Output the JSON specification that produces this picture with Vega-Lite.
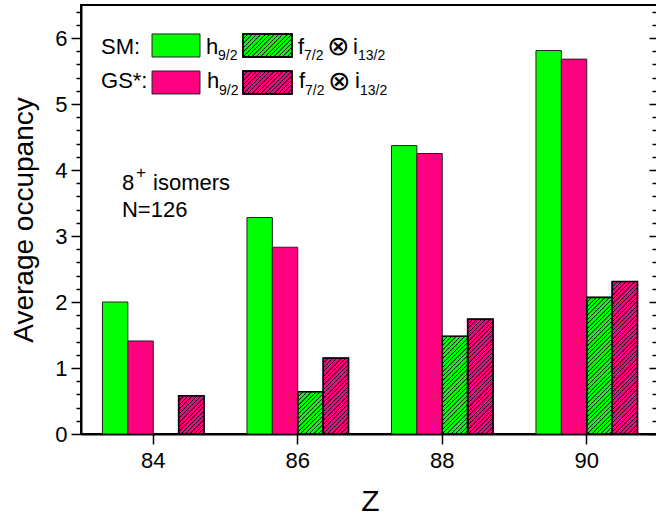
{
  "$schema": "https://vega.github.io/schema/vega-lite/v6.json",
  "autosize": "none",
  "padding": {"left": 81, "top": 5, "right": -3, "bottom": 81},
  "width": 578,
  "height": 429,
  "background": "white",
  "config": {
    "font": "Liberation Sans",
    "view": {"stroke": "black", "strokeWidth": 2},
    "axis": {"domainColor": "black", "tickColor": "black", "labelColor": "black", "titleColor": "black", "grid": false}
  },
  "params": [
    {"name": "hatch", "value": [
      {"offset":0,"color":"#0000"},{"offset":0.002,"color":"#000"},{"offset":0.005,"color":"#000"},{"offset":0.007,"color":"#0000"},
      {"offset":0.02,"color":"#0000"},{"offset":0.022,"color":"#000"},{"offset":0.025,"color":"#000"},{"offset":0.027,"color":"#0000"},
      {"offset":0.04,"color":"#0000"},{"offset":0.042,"color":"#000"},{"offset":0.045,"color":"#000"},{"offset":0.047,"color":"#0000"},
      {"offset":0.06,"color":"#0000"},{"offset":0.062,"color":"#000"},{"offset":0.065,"color":"#000"},{"offset":0.067,"color":"#0000"},
      {"offset":0.08,"color":"#0000"},{"offset":0.082,"color":"#000"},{"offset":0.085,"color":"#000"},{"offset":0.087,"color":"#0000"},
      {"offset":0.10,"color":"#0000"},{"offset":0.102,"color":"#000"},{"offset":0.105,"color":"#000"},{"offset":0.107,"color":"#0000"},
      {"offset":0.12,"color":"#0000"},{"offset":0.122,"color":"#000"},{"offset":0.125,"color":"#000"},{"offset":0.127,"color":"#0000"},
      {"offset":0.14,"color":"#0000"},{"offset":0.142,"color":"#000"},{"offset":0.145,"color":"#000"},{"offset":0.147,"color":"#0000"},
      {"offset":0.16,"color":"#0000"},{"offset":0.162,"color":"#000"},{"offset":0.165,"color":"#000"},{"offset":0.167,"color":"#0000"},
      {"offset":0.18,"color":"#0000"},{"offset":0.182,"color":"#000"},{"offset":0.185,"color":"#000"},{"offset":0.187,"color":"#0000"},
      {"offset":0.20,"color":"#0000"},{"offset":0.202,"color":"#000"},{"offset":0.205,"color":"#000"},{"offset":0.207,"color":"#0000"},
      {"offset":0.22,"color":"#0000"},{"offset":0.222,"color":"#000"},{"offset":0.225,"color":"#000"},{"offset":0.227,"color":"#0000"},
      {"offset":0.24,"color":"#0000"},{"offset":0.242,"color":"#000"},{"offset":0.245,"color":"#000"},{"offset":0.247,"color":"#0000"},
      {"offset":0.26,"color":"#0000"},{"offset":0.262,"color":"#000"},{"offset":0.265,"color":"#000"},{"offset":0.267,"color":"#0000"},
      {"offset":0.28,"color":"#0000"},{"offset":0.282,"color":"#000"},{"offset":0.285,"color":"#000"},{"offset":0.287,"color":"#0000"},
      {"offset":0.30,"color":"#0000"},{"offset":0.302,"color":"#000"},{"offset":0.305,"color":"#000"},{"offset":0.307,"color":"#0000"},
      {"offset":0.32,"color":"#0000"},{"offset":0.322,"color":"#000"},{"offset":0.325,"color":"#000"},{"offset":0.327,"color":"#0000"},
      {"offset":0.34,"color":"#0000"},{"offset":0.342,"color":"#000"},{"offset":0.345,"color":"#000"},{"offset":0.347,"color":"#0000"},
      {"offset":0.36,"color":"#0000"},{"offset":0.362,"color":"#000"},{"offset":0.365,"color":"#000"},{"offset":0.367,"color":"#0000"},
      {"offset":0.38,"color":"#0000"},{"offset":0.382,"color":"#000"},{"offset":0.385,"color":"#000"},{"offset":0.387,"color":"#0000"},
      {"offset":0.40,"color":"#0000"},{"offset":0.402,"color":"#000"},{"offset":0.405,"color":"#000"},{"offset":0.407,"color":"#0000"},
      {"offset":0.42,"color":"#0000"},{"offset":0.422,"color":"#000"},{"offset":0.425,"color":"#000"},{"offset":0.427,"color":"#0000"},
      {"offset":0.44,"color":"#0000"},{"offset":0.442,"color":"#000"},{"offset":0.445,"color":"#000"},{"offset":0.447,"color":"#0000"},
      {"offset":0.46,"color":"#0000"},{"offset":0.462,"color":"#000"},{"offset":0.465,"color":"#000"},{"offset":0.467,"color":"#0000"},
      {"offset":0.48,"color":"#0000"},{"offset":0.482,"color":"#000"},{"offset":0.485,"color":"#000"},{"offset":0.487,"color":"#0000"},
      {"offset":0.50,"color":"#0000"},{"offset":0.502,"color":"#000"},{"offset":0.505,"color":"#000"},{"offset":0.507,"color":"#0000"},
      {"offset":0.52,"color":"#0000"},{"offset":0.522,"color":"#000"},{"offset":0.525,"color":"#000"},{"offset":0.527,"color":"#0000"},
      {"offset":0.54,"color":"#0000"},{"offset":0.542,"color":"#000"},{"offset":0.545,"color":"#000"},{"offset":0.547,"color":"#0000"},
      {"offset":0.56,"color":"#0000"},{"offset":0.562,"color":"#000"},{"offset":0.565,"color":"#000"},{"offset":0.567,"color":"#0000"},
      {"offset":0.58,"color":"#0000"},{"offset":0.582,"color":"#000"},{"offset":0.585,"color":"#000"},{"offset":0.587,"color":"#0000"},
      {"offset":0.60,"color":"#0000"},{"offset":0.602,"color":"#000"},{"offset":0.605,"color":"#000"},{"offset":0.607,"color":"#0000"},
      {"offset":0.62,"color":"#0000"},{"offset":0.622,"color":"#000"},{"offset":0.625,"color":"#000"},{"offset":0.627,"color":"#0000"},
      {"offset":0.64,"color":"#0000"},{"offset":0.642,"color":"#000"},{"offset":0.645,"color":"#000"},{"offset":0.647,"color":"#0000"},
      {"offset":0.66,"color":"#0000"},{"offset":0.662,"color":"#000"},{"offset":0.665,"color":"#000"},{"offset":0.667,"color":"#0000"},
      {"offset":0.68,"color":"#0000"},{"offset":0.682,"color":"#000"},{"offset":0.685,"color":"#000"},{"offset":0.687,"color":"#0000"},
      {"offset":0.70,"color":"#0000"},{"offset":0.702,"color":"#000"},{"offset":0.705,"color":"#000"},{"offset":0.707,"color":"#0000"},
      {"offset":0.72,"color":"#0000"},{"offset":0.722,"color":"#000"},{"offset":0.725,"color":"#000"},{"offset":0.727,"color":"#0000"},
      {"offset":0.74,"color":"#0000"},{"offset":0.742,"color":"#000"},{"offset":0.745,"color":"#000"},{"offset":0.747,"color":"#0000"},
      {"offset":0.76,"color":"#0000"},{"offset":0.762,"color":"#000"},{"offset":0.765,"color":"#000"},{"offset":0.767,"color":"#0000"},
      {"offset":0.78,"color":"#0000"},{"offset":0.782,"color":"#000"},{"offset":0.785,"color":"#000"},{"offset":0.787,"color":"#0000"},
      {"offset":0.80,"color":"#0000"},{"offset":0.802,"color":"#000"},{"offset":0.805,"color":"#000"},{"offset":0.807,"color":"#0000"},
      {"offset":0.82,"color":"#0000"},{"offset":0.822,"color":"#000"},{"offset":0.825,"color":"#000"},{"offset":0.827,"color":"#0000"},
      {"offset":0.84,"color":"#0000"},{"offset":0.842,"color":"#000"},{"offset":0.845,"color":"#000"},{"offset":0.847,"color":"#0000"},
      {"offset":0.86,"color":"#0000"},{"offset":0.862,"color":"#000"},{"offset":0.865,"color":"#000"},{"offset":0.867,"color":"#0000"},
      {"offset":0.88,"color":"#0000"},{"offset":0.882,"color":"#000"},{"offset":0.885,"color":"#000"},{"offset":0.887,"color":"#0000"},
      {"offset":0.90,"color":"#0000"},{"offset":0.902,"color":"#000"},{"offset":0.905,"color":"#000"},{"offset":0.907,"color":"#0000"},
      {"offset":0.92,"color":"#0000"},{"offset":0.922,"color":"#000"},{"offset":0.925,"color":"#000"},{"offset":0.927,"color":"#0000"},
      {"offset":0.94,"color":"#0000"},{"offset":0.942,"color":"#000"},{"offset":0.945,"color":"#000"},{"offset":0.947,"color":"#0000"},
      {"offset":0.96,"color":"#0000"},{"offset":0.962,"color":"#000"},{"offset":0.965,"color":"#000"},{"offset":0.967,"color":"#0000"},
      {"offset":0.98,"color":"#0000"},{"offset":0.982,"color":"#000"},{"offset":0.985,"color":"#000"},{"offset":0.987,"color":"#0000"}
    ]}
  ],
  "resolve": {"scale": {"x": "independent"}, "axis": {"x": "independent", "y": "independent"}},
  "layer": [
    {
      "data": {"values": [
        {"Z": 84, "series": "SM h9/2", "model": "SM", "orbital": "h", "value": 2.0},
        {"Z": 84, "series": "GS h9/2", "model": "GS", "orbital": "h", "value": 1.41},
        {"Z": 84, "series": "GS f7/2 i13/2", "model": "GS", "orbital": "fi", "value": 0.58},
        {"Z": 86, "series": "SM h9/2", "model": "SM", "orbital": "h", "value": 3.28},
        {"Z": 86, "series": "GS h9/2", "model": "GS", "orbital": "h", "value": 2.83},
        {"Z": 86, "series": "SM f7/2 i13/2", "model": "SM", "orbital": "fi", "value": 0.64},
        {"Z": 86, "series": "GS f7/2 i13/2", "model": "GS", "orbital": "fi", "value": 1.15},
        {"Z": 88, "series": "SM h9/2", "model": "SM", "orbital": "h", "value": 4.37},
        {"Z": 88, "series": "GS h9/2", "model": "GS", "orbital": "h", "value": 4.25},
        {"Z": 88, "series": "SM f7/2 i13/2", "model": "SM", "orbital": "fi", "value": 1.48},
        {"Z": 88, "series": "GS f7/2 i13/2", "model": "GS", "orbital": "fi", "value": 1.74},
        {"Z": 90, "series": "SM h9/2", "model": "SM", "orbital": "h", "value": 5.81},
        {"Z": 90, "series": "GS h9/2", "model": "GS", "orbital": "h", "value": 5.68},
        {"Z": 90, "series": "SM f7/2 i13/2", "model": "SM", "orbital": "fi", "value": 2.07},
        {"Z": 90, "series": "GS f7/2 i13/2", "model": "GS", "orbital": "fi", "value": 2.31}
      ]},
      "encoding": {
        "x": {"field": "Z", "type": "ordinal", "scale": {"domain": [84, 86, 88, 90], "paddingInner": 0, "paddingOuter": 0},
              "axis": {"title": "Z", "titleFontSize": 30, "titleFontWeight": "normal", "titlePadding": 15, "labelFontSize": 22, "labelAngle": 0, "labelPadding": 6, "tickSize": 10, "tickWidth": 1.5, "domainWidth": 2}},
        "xOffset": {"field": "series", "type": "nominal", "scale": {"domain": ["SM h9/2", "GS h9/2", "SM f7/2 i13/2", "GS f7/2 i13/2"], "paddingInner": 0, "paddingOuter": 0.845}},
        "y": {"field": "value", "type": "quantitative", "stack": null, "scale": {"domain": [0, 6.5], "nice": false, "zero": false},
              "axis": {"orient": "left", "values": [0, 1, 2, 3, 4, 5, 6], "title": "Average occupancy", "titleFontSize": 28, "titleFontWeight": "normal", "titlePadding": 16, "labelFontSize": 22, "labelPadding": 4, "tickSize": 10, "tickWidth": 1.5, "domainWidth": 2}}
      },
      "layer": [
        {
          "mark": {"type": "bar", "stroke": "#222", "strokeWidth": 1},
          "encoding": {"color": {"field": "model", "type": "nominal", "scale": {"domain": ["SM", "GS"], "range": ["#00ff00", "#ff0080"]}, "legend": null}}
        },
        {
          "transform": [{"filter": "datum.orbital == 'fi'"}],
          "mark": {"type": "bar", "stroke": "black", "strokeWidth": 1.6,
                   "fill": {"expr": "{gradient: 'linear', x1: 0, y1: 0, x2: 25.4*220/(645 + pow(scale('y', 0) - scale('y', datum.value), 2)), y2: (scale('y', 0) - scale('y', datum.value))*220/(645 + pow(scale('y', 0) - scale('y', datum.value), 2)), stops: hatch}"}}
        }
      ]
    },
    {
      "data": {"values": [{}]},
      "mark": {"type": "point", "opacity": 0},
      "encoding": {"y": {"datum": 0, "type": "quantitative", "scale": {"domain": [0, 6.5], "nice": false, "zero": false},
        "axis": {"orient": "left", "values": [0.2,0.4,0.6,0.8,1.2,1.4,1.6,1.8,2.2,2.4,2.6,2.8,3.2,3.4,3.6,3.8,4.2,4.4,4.6,4.8,5.2,5.4,5.6,5.8,6.2,6.4], "labels": false, "domain": false, "title": null, "tickSize": 5, "tickWidth": 1.5}}}
    },
    {
      "data": {"values": [{}]},
      "mark": {"type": "point", "opacity": 0},
      "encoding": {"y": {"datum": 0, "type": "quantitative", "scale": {"domain": [0, 6.5], "nice": false, "zero": false},
        "axis": {"orient": "right", "values": [0, 1, 2, 3, 4, 5, 6], "labels": false, "domain": false, "title": null, "tickSize": -10, "tickWidth": 1.5}}}
    },
    {
      "data": {"values": [{}]},
      "mark": {"type": "point", "opacity": 0},
      "encoding": {"y": {"datum": 0, "type": "quantitative", "scale": {"domain": [0, 6.5], "nice": false, "zero": false},
        "axis": {"orient": "right", "values": [0.2,0.4,0.6,0.8,1.2,1.4,1.6,1.8,2.2,2.4,2.6,2.8,3.2,3.4,3.6,3.8,4.2,4.4,4.6,4.8,5.2,5.4,5.6,5.8,6.2,6.4], "labels": false, "domain": false, "title": null, "tickSize": -7, "tickWidth": 1.5}}}
    },
    {
      "data": {"values": [{}]},
      "mark": {"type": "rect", "fill": "#00ff00", "stroke": "#222", "strokeWidth": 1},
      "encoding": {"x": {"datum": 83.983, "type": "quantitative", "scale": {"domain": [83, 91], "nice": false, "zero": false}, "axis": null}, "x2": {"datum": 84.647},
                   "y": {"datum": 6.061, "type": "quantitative", "scale": {"domain": [0, 6.5], "nice": false, "zero": false}, "axis": null}, "y2": {"datum": 5.712}}
    },
    {
      "data": {"values": [{}]},
      "mark": {"type": "rect", "fill": "#00ff00", "stroke": "black", "strokeWidth": 1.5},
      "encoding": {"x": {"datum": 85.242, "type": "quantitative", "scale": {"domain": [83, 91], "nice": false, "zero": false}, "axis": null}, "x2": {"datum": 85.920},
                   "y": {"datum": 6.061, "type": "quantitative", "scale": {"domain": [0, 6.5], "nice": false, "zero": false}, "axis": null}, "y2": {"datum": 5.712}}
    },
    {
      "data": {"values": [{}]},
      "mark": {"type": "rect", "stroke": "black", "strokeWidth": 1.5, "fill": {"expr": "{gradient: 'linear', x1: 0, y1: 0, x2: 3.679, y2: 1.727, stops: hatch}"}},
      "encoding": {"x": {"datum": 85.242, "type": "quantitative", "scale": {"domain": [83, 91], "nice": false, "zero": false}, "axis": null}, "x2": {"datum": 85.920},
                   "y": {"datum": 6.061, "type": "quantitative", "scale": {"domain": [0, 6.5], "nice": false, "zero": false}, "axis": null}, "y2": {"datum": 5.712}}
    },
    {
      "data": {"values": [{}]},
      "mark": {"type": "rect", "fill": "#ff0080", "stroke": "#222", "strokeWidth": 1},
      "encoding": {"x": {"datum": 83.983, "type": "quantitative", "scale": {"domain": [83, 91], "nice": false, "zero": false}, "axis": null}, "x2": {"datum": 84.647},
                   "y": {"datum": 5.5, "type": "quantitative", "scale": {"domain": [0, 6.5], "nice": false, "zero": false}, "axis": null}, "y2": {"datum": 5.152}}
    },
    {
      "data": {"values": [{}]},
      "mark": {"type": "rect", "fill": "#ff0080", "stroke": "black", "strokeWidth": 1.5},
      "encoding": {"x": {"datum": 85.242, "type": "quantitative", "scale": {"domain": [83, 91], "nice": false, "zero": false}, "axis": null}, "x2": {"datum": 85.920},
                   "y": {"datum": 5.5, "type": "quantitative", "scale": {"domain": [0, 6.5], "nice": false, "zero": false}, "axis": null}, "y2": {"datum": 5.152}}
    },
    {
      "data": {"values": [{}]},
      "mark": {"type": "rect", "stroke": "black", "strokeWidth": 1.5, "fill": {"expr": "{gradient: 'linear', x1: 0, y1: 0, x2: 3.679, y2: 1.727, stops: hatch}"}},
      "encoding": {"x": {"datum": 85.242, "type": "quantitative", "scale": {"domain": [83, 91], "nice": false, "zero": false}, "axis": null}, "x2": {"datum": 85.920},
                   "y": {"datum": 5.5, "type": "quantitative", "scale": {"domain": [0, 6.5], "nice": false, "zero": false}, "axis": null}, "y2": {"datum": 5.152}}
    },
    {"data": {"values": [{}]}, "mark": {"type": "text", "align": "left", "baseline": "alphabetic", "fontSize": 22, "color": "black"},
     "encoding": {"x": {"datum": 83.277, "type": "quantitative", "scale": {"domain": [83, 91], "nice": false, "zero": false}, "axis": null}, "y": {"datum": 5.758, "type": "quantitative", "scale": {"domain": [0, 6.5], "nice": false, "zero": false}, "axis": null}, "text": {"value": "SM:"}}},
    {"data": {"values": [{}]}, "mark": {"type": "text", "align": "left", "baseline": "alphabetic", "fontSize": 22, "color": "black"},
     "encoding": {"x": {"datum": 84.730, "type": "quantitative", "scale": {"domain": [83, 91], "nice": false, "zero": false}, "axis": null}, "y": {"datum": 5.758, "type": "quantitative", "scale": {"domain": [0, 6.5], "nice": false, "zero": false}, "axis": null}, "text": {"value": "h"}}},
    {"data": {"values": [{}]}, "mark": {"type": "text", "align": "left", "baseline": "alphabetic", "fontSize": 14, "color": "black"},
     "encoding": {"x": {"datum": 84.896, "type": "quantitative", "scale": {"domain": [83, 91], "nice": false, "zero": false}, "axis": null}, "y": {"datum": 5.667, "type": "quantitative", "scale": {"domain": [0, 6.5], "nice": false, "zero": false}, "axis": null}, "text": {"value": "9/2"}}},
    {"data": {"values": [{}]}, "mark": {"type": "text", "align": "left", "baseline": "alphabetic", "fontSize": 22, "color": "black"},
     "encoding": {"x": {"datum": 86.003, "type": "quantitative", "scale": {"domain": [83, 91], "nice": false, "zero": false}, "axis": null}, "y": {"datum": 5.758, "type": "quantitative", "scale": {"domain": [0, 6.5], "nice": false, "zero": false}, "axis": null}, "text": {"value": "f"}}},
    {"data": {"values": [{}]}, "mark": {"type": "text", "align": "left", "baseline": "alphabetic", "fontSize": 14, "color": "black"},
     "encoding": {"x": {"datum": 86.087, "type": "quantitative", "scale": {"domain": [83, 91], "nice": false, "zero": false}, "axis": null}, "y": {"datum": 5.667, "type": "quantitative", "scale": {"domain": [0, 6.5], "nice": false, "zero": false}, "axis": null}, "text": {"value": "7/2"}}},
    {"data": {"values": [{}]}, "mark": {"type": "text", "align": "left", "baseline": "alphabetic", "fontSize": 27, "font": "DejaVu Sans", "fontWeight": 200, "color": "black"},
     "encoding": {"x": {"datum": 86.40, "type": "quantitative", "scale": {"domain": [83, 91], "nice": false, "zero": false}, "axis": null}, "y": {"datum": 5.735, "type": "quantitative", "scale": {"domain": [0, 6.5], "nice": false, "zero": false}, "axis": null}, "text": {"value": "⊗"}}},
    {"data": {"values": [{}]}, "mark": {"type": "text", "align": "left", "baseline": "alphabetic", "fontSize": 22, "color": "black"},
     "encoding": {"x": {"datum": 86.765, "type": "quantitative", "scale": {"domain": [83, 91], "nice": false, "zero": false}, "axis": null}, "y": {"datum": 5.758, "type": "quantitative", "scale": {"domain": [0, 6.5], "nice": false, "zero": false}, "axis": null}, "text": {"value": "i"}}},
    {"data": {"values": [{}]}, "mark": {"type": "text", "align": "left", "baseline": "alphabetic", "fontSize": 14, "color": "black"},
     "encoding": {"x": {"datum": 86.834, "type": "quantitative", "scale": {"domain": [83, 91], "nice": false, "zero": false}, "axis": null}, "y": {"datum": 5.667, "type": "quantitative", "scale": {"domain": [0, 6.5], "nice": false, "zero": false}, "axis": null}, "text": {"value": "13/2"}}},
    {"data": {"values": [{}]}, "mark": {"type": "text", "align": "left", "baseline": "alphabetic", "fontSize": 22, "color": "black"},
     "encoding": {"x": {"datum": 83.277, "type": "quantitative", "scale": {"domain": [83, 91], "nice": false, "zero": false}, "axis": null}, "y": {"datum": 5.242, "type": "quantitative", "scale": {"domain": [0, 6.5], "nice": false, "zero": false}, "axis": null}, "text": {"value": "GS*:"}}},
    {"data": {"values": [{}]}, "mark": {"type": "text", "align": "left", "baseline": "alphabetic", "fontSize": 22, "color": "black"},
     "encoding": {"x": {"datum": 84.745, "type": "quantitative", "scale": {"domain": [83, 91], "nice": false, "zero": false}, "axis": null}, "y": {"datum": 5.242, "type": "quantitative", "scale": {"domain": [0, 6.5], "nice": false, "zero": false}, "axis": null}, "text": {"value": "h"}}},
    {"data": {"values": [{}]}, "mark": {"type": "text", "align": "left", "baseline": "alphabetic", "fontSize": 14, "color": "black"},
     "encoding": {"x": {"datum": 84.910, "type": "quantitative", "scale": {"domain": [83, 91], "nice": false, "zero": false}, "axis": null}, "y": {"datum": 5.136, "type": "quantitative", "scale": {"domain": [0, 6.5], "nice": false, "zero": false}, "axis": null}, "text": {"value": "9/2"}}},
    {"data": {"values": [{}]}, "mark": {"type": "text", "align": "left", "baseline": "alphabetic", "fontSize": 22, "color": "black"},
     "encoding": {"x": {"datum": 86.017, "type": "quantitative", "scale": {"domain": [83, 91], "nice": false, "zero": false}, "axis": null}, "y": {"datum": 5.242, "type": "quantitative", "scale": {"domain": [0, 6.5], "nice": false, "zero": false}, "axis": null}, "text": {"value": "f"}}},
    {"data": {"values": [{}]}, "mark": {"type": "text", "align": "left", "baseline": "alphabetic", "fontSize": 14, "color": "black"},
     "encoding": {"x": {"datum": 86.100, "type": "quantitative", "scale": {"domain": [83, 91], "nice": false, "zero": false}, "axis": null}, "y": {"datum": 5.136, "type": "quantitative", "scale": {"domain": [0, 6.5], "nice": false, "zero": false}, "axis": null}, "text": {"value": "7/2"}}},
    {"data": {"values": [{}]}, "mark": {"type": "text", "align": "left", "baseline": "alphabetic", "fontSize": 27, "font": "DejaVu Sans", "fontWeight": 200, "color": "black"},
     "encoding": {"x": {"datum": 86.414, "type": "quantitative", "scale": {"domain": [83, 91], "nice": false, "zero": false}, "axis": null}, "y": {"datum": 5.219, "type": "quantitative", "scale": {"domain": [0, 6.5], "nice": false, "zero": false}, "axis": null}, "text": {"value": "⊗"}}},
    {"data": {"values": [{}]}, "mark": {"type": "text", "align": "left", "baseline": "alphabetic", "fontSize": 22, "color": "black"},
     "encoding": {"x": {"datum": 86.792, "type": "quantitative", "scale": {"domain": [83, 91], "nice": false, "zero": false}, "axis": null}, "y": {"datum": 5.242, "type": "quantitative", "scale": {"domain": [0, 6.5], "nice": false, "zero": false}, "axis": null}, "text": {"value": "i"}}},
    {"data": {"values": [{}]}, "mark": {"type": "text", "align": "left", "baseline": "alphabetic", "fontSize": 14, "color": "black"},
     "encoding": {"x": {"datum": 86.862, "type": "quantitative", "scale": {"domain": [83, 91], "nice": false, "zero": false}, "axis": null}, "y": {"datum": 5.136, "type": "quantitative", "scale": {"domain": [0, 6.5], "nice": false, "zero": false}, "axis": null}, "text": {"value": "13/2"}}},
    {"data": {"values": [{}]}, "mark": {"type": "text", "align": "left", "baseline": "alphabetic", "fontSize": 22, "color": "black"},
     "encoding": {"x": {"datum": 83.567, "type": "quantitative", "scale": {"domain": [83, 91], "nice": false, "zero": false}, "axis": null}, "y": {"datum": 3.697, "type": "quantitative", "scale": {"domain": [0, 6.5], "nice": false, "zero": false}, "axis": null}, "text": {"value": "8"}}},
    {"data": {"values": [{}]}, "mark": {"type": "text", "align": "left", "baseline": "alphabetic", "fontSize": 17, "color": "black"},
     "encoding": {"x": {"datum": 83.76, "type": "quantitative", "scale": {"domain": [83, 91], "nice": false, "zero": false}, "axis": null}, "y": {"datum": 3.88, "type": "quantitative", "scale": {"domain": [0, 6.5], "nice": false, "zero": false}, "axis": null}, "text": {"value": "+"}}},
    {"data": {"values": [{}]}, "mark": {"type": "text", "align": "left", "baseline": "alphabetic", "fontSize": 22, "color": "black"},
     "encoding": {"x": {"datum": 83.997, "type": "quantitative", "scale": {"domain": [83, 91], "nice": false, "zero": false}, "axis": null}, "y": {"datum": 3.697, "type": "quantitative", "scale": {"domain": [0, 6.5], "nice": false, "zero": false}, "axis": null}, "text": {"value": "isomers"}}},
    {"data": {"values": [{}]}, "mark": {"type": "text", "align": "left", "baseline": "alphabetic", "fontSize": 22, "color": "black"},
     "encoding": {"x": {"datum": 83.567, "type": "quantitative", "scale": {"domain": [83, 91], "nice": false, "zero": false}, "axis": null}, "y": {"datum": 3.288, "type": "quantitative", "scale": {"domain": [0, 6.5], "nice": false, "zero": false}, "axis": null}, "text": {"value": "N=126"}}}
  ]
}
